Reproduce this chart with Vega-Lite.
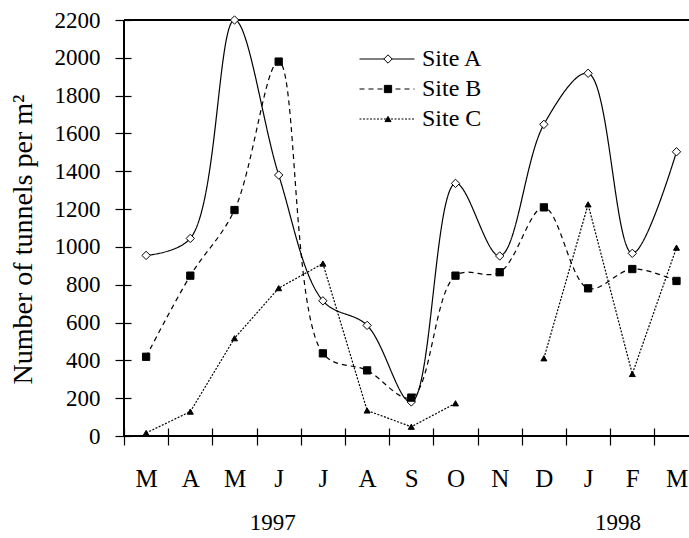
{
  "$schema": "https://vega.github.io/schema/vega-lite/v6.json",
  "width": 565,
  "height": 416,
  "autosize": {"type": "none"},
  "padding": {"left": 124, "top": 20, "right": 0, "bottom": 102},
  "background": "white",
  "config": {
    "view": {"stroke": null},
    "font": "Liberation Serif",
    "axis": {"labelColor": "black", "tickColor": "black", "titleColor": "black", "grid": false, "labelFont": "Liberation Serif", "titleFont": "Liberation Serif", "tickWidth": 1.2}
  },
  "data": {
    "values": [
      {"m": "1997-03", "site": "Site A", "v": 955, "seg": 1},
      {"m": "1997-04", "site": "Site A", "v": 1045, "seg": 1},
      {"m": "1997-05", "site": "Site A", "v": 2200, "seg": 1},
      {"m": "1997-06", "site": "Site A", "v": 1380, "seg": 1},
      {"m": "1997-07", "site": "Site A", "v": 715, "seg": 1},
      {"m": "1997-08", "site": "Site A", "v": 585, "seg": 1},
      {"m": "1997-09", "site": "Site A", "v": 180, "seg": 1},
      {"m": "1997-10", "site": "Site A", "v": 1336, "seg": 1},
      {"m": "1997-11", "site": "Site A", "v": 952, "seg": 1},
      {"m": "1997-12", "site": "Site A", "v": 1648, "seg": 1},
      {"m": "1998-01", "site": "Site A", "v": 1918, "seg": 1},
      {"m": "1998-02", "site": "Site A", "v": 966, "seg": 1},
      {"m": "1998-03", "site": "Site A", "v": 1503, "seg": 1},
      {"m": "1997-03", "site": "Site B", "v": 419, "seg": 1},
      {"m": "1997-04", "site": "Site B", "v": 848, "seg": 1},
      {"m": "1997-05", "site": "Site B", "v": 1195, "seg": 1},
      {"m": "1997-06", "site": "Site B", "v": 1980, "seg": 1},
      {"m": "1997-07", "site": "Site B", "v": 437, "seg": 1},
      {"m": "1997-08", "site": "Site B", "v": 347, "seg": 1},
      {"m": "1997-09", "site": "Site B", "v": 203, "seg": 1},
      {"m": "1997-10", "site": "Site B", "v": 848, "seg": 1},
      {"m": "1997-11", "site": "Site B", "v": 866, "seg": 1},
      {"m": "1997-12", "site": "Site B", "v": 1209, "seg": 1},
      {"m": "1998-01", "site": "Site B", "v": 781, "seg": 1},
      {"m": "1998-02", "site": "Site B", "v": 883, "seg": 1},
      {"m": "1998-03", "site": "Site B", "v": 820, "seg": 1},
      {"m": "1997-03", "site": "Site C", "v": 16, "seg": 1},
      {"m": "1997-04", "site": "Site C", "v": 129, "seg": 1},
      {"m": "1997-05", "site": "Site C", "v": 517, "seg": 1},
      {"m": "1997-06", "site": "Site C", "v": 782, "seg": 1},
      {"m": "1997-07", "site": "Site C", "v": 912, "seg": 1},
      {"m": "1997-08", "site": "Site C", "v": 135, "seg": 1},
      {"m": "1997-09", "site": "Site C", "v": 49, "seg": 1},
      {"m": "1997-10", "site": "Site C", "v": 173, "seg": 1},
      {"m": "1997-12", "site": "Site C", "v": 411, "seg": 2},
      {"m": "1998-01", "site": "Site C", "v": 1225, "seg": 2},
      {"m": "1998-02", "site": "Site C", "v": 328, "seg": 2},
      {"m": "1998-03", "site": "Site C", "v": 996, "seg": 2}
    ]
  },
  "layer": [
    {
      "encoding": {
        "y": {
          "field": "v", "type": "quantitative",
          "scale": {"domain": [0, 2200], "nice": false},
          "axis": {"values": [0,200,400,600,800,1000,1200,1400,1600,1800,2000,2200], "format": "d", "labelOverlap": false, "domain": false, "offset": -7, "tickSize": 16, "labelFontSize": 23, "labelPadding": 15,
            "title": "Number of tunnels per m²", "titleFontSize": 28, "titleFontWeight": "normal", "titlePadding": 17, "titleY": 219}
        }
      },
      "layer": [
        {
          "transform": [{"filter": "datum.site !== 'Site C'"}],
          "mark": {"type": "line", "interpolate": "catmull-rom", "color": "black", "strokeWidth": 1.2},
          "encoding": {
            "x": {
              "field": "m", "type": "ordinal",
              "scale": {"domain": ["1997-03","1997-04","1997-05","1997-06","1997-07","1997-08","1997-09","1997-10","1997-11","1997-12","1998-01","1998-02","1998-03"], "range": [0, 574.6], "paddingInner": 0, "paddingOuter": 0},
              "axis": {"title": null, "domain": false, "offset": -8, "tickSize": 17, "tickBand": "extent", "labelAngle": 0, "labelFontSize": 25, "labelPadding": 21,
                "labelExpr": "substring('JFMAMJJASOND', toNumber(substring(datum.value,5,7))-1, toNumber(substring(datum.value,5,7)))"}
            },
            "detail": {"field": "seg"},
            "strokeDash": {
              "field": "site", "type": "nominal",
              "scale": {"domain": ["Site A", "Site B", "Site C"], "range": [[1, 0], [5, 4], [2, 1.5]]},
              "legend": {"orient": "none", "legendX": 251, "legendY": 27, "title": null, "symbolType": "M-5,0H5", "symbolSize": 121, "symbolStrokeColor": "black", "symbolStrokeWidth": 1.2, "labelFont": "Liberation Serif", "labelFontSize": 24, "labelColor": "black", "labelOffset": 23, "rowPadding": 6}
            }
          }
        },
        {
          "transform": [{"filter": "datum.site === 'Site C'"}],
          "mark": {"type": "line", "interpolate": "linear", "color": "black", "strokeWidth": 1.2},
          "encoding": {
            "x": {"field": "m", "type": "ordinal"},
            "detail": {"field": "seg"},
            "strokeDash": {"field": "site", "type": "nominal"}
          }
        },
        {
          "mark": {"type": "rule", "color": "black", "strokeWidth": 1.2},
          "encoding": {"y": {"datum": 0, "type": "quantitative"}}
        },
        {
          "mark": {"type": "rule", "color": "black", "strokeWidth": 1.2},
          "encoding": {"y": {"datum": 2200, "type": "quantitative"}}
        },
        {
          "mark": {"type": "rule", "color": "black", "strokeWidth": 1.2},
          "encoding": {
            "x": {"datum": "1997-03", "type": "ordinal", "bandPosition": 0},
            "y": {"datum": 0, "type": "quantitative"},
            "y2": {"datum": 2200}
          }
        },
        {
          "mark": {"type": "point", "filled": true, "stroke": "black", "strokeWidth": 1, "opacity": 1},
          "encoding": {
            "x": {"field": "m", "type": "ordinal"},
            "shape": {"field": "site", "type": "nominal", "scale": {"range": ["diamond", "square", "triangle-up"]},
              "legend": {"orient": "none", "legendX": 252, "legendY": 27, "title": null, "zindex": 2, "labelExpr": "''", "labelFont": "Liberation Serif", "labelFontSize": 24, "labelOffset": 8, "rowPadding": 6, "symbolStrokeColor": "black", "symbolStrokeWidth": 1}},
            "fill": {"field": "site", "type": "nominal", "scale": {"range": ["white", "black", "black"]}},
            "size": {"field": "site", "type": "nominal", "scale": {"range": [70, 36, 50]}}
          }
        }
      ]
    },
    {
      "data": {"values": [{"m": "1997-06", "t": "1997"}]},
      "mark": {"type": "text", "font": "Liberation Serif", "fontSize": 23, "color": "black", "baseline": "middle", "dx": -6},
      "encoding": {
        "x": {"field": "m", "type": "ordinal"},
        "y": {"datum": -460, "type": "quantitative",
          "axis": {"values": [0,200,400,600,800,1000,1200,1400,1600,1800,2000,2200], "format": "d", "labelOverlap": false, "domain": false, "offset": -7, "tickSize": 16, "labelFontSize": 23, "labelPadding": 15,
            "title": "Number of tunnels per m²", "titleFontSize": 28, "titleFontWeight": "normal", "titlePadding": 17, "titleY": 219}},
        "text": {"field": "t"}
      }
    },
    {
      "data": {"values": [{"m": "1998-01", "t": "1998"}]},
      "mark": {"type": "text", "font": "Liberation Serif", "fontSize": 23, "color": "black", "baseline": "middle", "dx": 30},
      "encoding": {
        "x": {"field": "m", "type": "ordinal"},
        "y": {"datum": -460, "type": "quantitative",
          "axis": {"values": [0,200,400,600,800,1000,1200,1400,1600,1800,2000,2200], "format": "d", "labelOverlap": false, "domain": false, "offset": -7, "tickSize": 16, "labelFontSize": 23, "labelPadding": 15,
            "title": "Number of tunnels per m²", "titleFontSize": 28, "titleFontWeight": "normal", "titlePadding": 17, "titleY": 219}},
        "text": {"field": "t"}
      }
    }
  ]
}
